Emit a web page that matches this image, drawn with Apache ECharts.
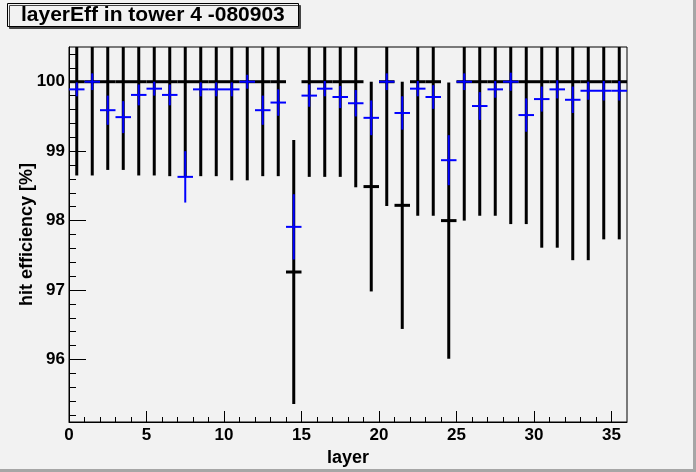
<!DOCTYPE html>
<html>
<head>
<meta charset="utf-8">
<title>layerEff in tower 4</title>
<script src="https://cdn.jsdelivr.net/npm/echarts@6.0.0/dist/echarts.min.js"></script>
<style>
  html, body { margin: 0; padding: 0; background: #f2f2f2; }
  #main { width: 696px; height: 472px; }
</style>
</head>
<body>
<div id="main"></div>
<script>
// layer bins (each bin is 1 wide, mark drawn at layer + 0.5)
var layers = [0, 1, 2, 3, 4, 5, 6, 7, 8, 9, 10, 11, 12, 13, 14, 15, 16, 17,
              18, 19, 20, 21, 22, 23, 24, 25, 26, 27, 28, 29, 30, 31, 32, 33, 34, 35];

// black points, big error bars
var blackEff = [100, 100, 100, 100, 100, 100, 100, 100, 100, 100, 100, 100,
                100, 100, 97.26, 100, 100, 100, 100, 98.49, 100, 98.22, 100, 100,
                98.0, 100, 100, 100, 100, 100, 100, 100, 100, 100, 100, 100];
var blackErr = [1.35, 1.35, 1.27, 1.27, 1.35, 1.35, 1.36, 1.36, 1.36, 1.36, 1.42, 1.42,
                1.36, 1.36, 1.9, 1.37, 1.37, 1.37, 1.52, 1.51, 1.79, 1.78, 1.93, 1.93,
                1.99, 2.0, 1.93, 1.93, 2.05, 2.05, 2.39, 2.39, 2.57, 2.57, 2.27, 2.27];

// blue points, small error bars
var blueEff = [99.89, 100.0, 99.59, 99.49, 99.81, 99.9, 99.81, 98.63, 99.89, 99.89, 99.89, 100.0,
               99.59, 99.7, 97.91, 99.8, 99.9, 99.78, 99.69, 99.48, 100.0, 99.55, 99.9, 99.78,
               98.87, 100.0, 99.65, 99.89, 100.0, 99.52, 99.75, 99.89, 99.74, 99.87, 99.87, 99.87];
var blueErr = [0.1, 0.12, 0.21, 0.23, 0.15, 0.1, 0.15, 0.37, 0.1, 0.1, 0.1, 0.1,
               0.21, 0.19, 0.47, 0.16, 0.11, 0.16, 0.19, 0.25, 0.12, 0.24, 0.11, 0.17,
               0.36, 0.12, 0.2, 0.12, 0.13, 0.24, 0.18, 0.13, 0.19, 0.13, 0.14, 0.14];

// axis ticks
var xMajor = [0, 5, 10, 15, 20, 25, 30, 35];
var xMinor = [1, 2, 3, 4, 6, 7, 8, 9, 11, 12, 13, 14, 16, 17, 18, 19, 21, 22, 23, 24,
              26, 27, 28, 29, 31, 32, 33, 34];
var yMajor = [96, 97, 98, 99, 100];
var yMinor = [95.2, 95.4, 95.6, 95.8, 96.2, 96.4, 96.6, 96.8, 97.2, 97.4, 97.6, 97.8,
              98.2, 98.4, 98.6, 98.8, 99.2, 99.4, 99.6, 99.8, 100.2, 100.4];

var yMin = 95.1, yMax = 100.5;
var font = 'Liberation Sans';

function toData(eff, err) {
    return layers.map(function (l, i) { return [l, eff[i], err[i]]; });
}

function errBars(color, lw) {
    return function (params, api) {
        var x = api.value(0) + 0.5;
        var y = api.value(1);
        var e = api.value(2);
        var l = api.coord([x - 0.5, y]);
        var r = api.coord([x + 0.5, y]);
        var t = api.coord([x, Math.min(y + e, yMax)]);
        var b = api.coord([x, Math.max(y - e, yMin)]);
        return {
            type: 'group',
            children: [
                { type: 'line', shape: { x1: l[0], y1: l[1], x2: r[0], y2: r[1] },
                  style: { stroke: color, lineWidth: lw } },
                { type: 'line', shape: { x1: t[0], y1: t[1], x2: b[0], y2: b[1] },
                  style: { stroke: color, lineWidth: lw } }
            ]
        };
    };
}

var chart = echarts.init(document.getElementById('main'));

option = {
    backgroundColor: '#f2f2f2',
    animation: false,
    title: {
        text: 'layerEff in tower 4 -080903',
        left: 7,
        top: 3,
        padding: [2, 14, 1, 14],
        backgroundColor: '#f2f2f2',
        borderColor: '#000',
        borderWidth: 1,
        shadowColor: '#444',
        shadowOffsetX: 2,
        shadowOffsetY: 2,
        textStyle: { fontFamily: font, fontWeight: 'bold', fontSize: 21, color: '#000' }
    },
    grid: {
        left: 69, right: 69, top: 47, bottom: 48,
        show: true,
        borderColor: '#000',
        borderWidth: 1,
        backgroundColor: 'transparent'
    },
    xAxis: [{
        type: 'value',
        min: 0, max: 36,
        position: 'bottom',
        name: 'layer',
        nameLocation: 'middle',
        nameGap: 27,
        nameTextStyle: { fontFamily: font, fontWeight: 'bold', fontSize: 18, color: '#000' },
        axisLine: { lineStyle: { color: '#000', width: 1 } },
        axisTick: { inside: true, length: 11, customValues: xMajor, lineStyle: { color: '#000' } },
        axisLabel: { customValues: xMajor, margin: 5, fontFamily: font, fontWeight: 'bold', fontSize: 17, color: '#000' },
        splitLine: { show: false }
    }, {
        type: 'value',
        min: 0, max: 36,
        position: 'bottom',
        axisLine: { show: false },
        axisTick: { inside: true, length: 5, customValues: xMinor, lineStyle: { color: '#000' } },
        axisLabel: { show: false },
        splitLine: { show: false }
    }],
    yAxis: [{
        type: 'value',
        min: yMin, max: yMax,
        position: 'left',
        name: 'hit efficiency [%]',
        nameLocation: 'middle',
        nameRotate: 90,
        nameGap: 33,
        nameMoveOverlap: false,
        nameTextStyle: { fontFamily: font, fontWeight: 'bold', fontSize: 18, color: '#000' },
        axisLine: { lineStyle: { color: '#000', width: 1 } },
        axisTick: { inside: true, length: 17, customValues: yMajor, lineStyle: { color: '#000' } },
        axisLabel: { customValues: yMajor, margin: 4, fontFamily: font, fontWeight: 'bold', fontSize: 17, color: '#000' },
        splitLine: { show: false }
    }, {
        type: 'value',
        min: yMin, max: yMax,
        position: 'left',
        axisLine: { show: false },
        axisTick: { inside: true, length: 7, customValues: yMinor, lineStyle: { color: '#000' } },
        axisLabel: { show: false },
        splitLine: { show: false }
    }],
    graphic: [
        { type: 'rect', right: 0, top: 0, shape: { width: 3, height: 472 }, style: { fill: '#a6a6a6' } },
        { type: 'rect', left: 0, bottom: 0, shape: { width: 696, height: 3 }, style: { fill: '#a6a6a6' } }
    ],
    series: [{
        name: 'black',
        type: 'custom',
        xAxisIndex: 0, yAxisIndex: 0,
        renderItem: errBars('#000', 3),
        encode: { x: 0, y: 1 },
        data: toData(blackEff, blackErr)
    }, {
        name: 'blue',
        type: 'custom',
        xAxisIndex: 0, yAxisIndex: 0,
        renderItem: errBars('#0000ff', 2),
        encode: { x: 0, y: 1 },
        data: toData(blueEff, blueErr)
    }]
};

option && chart.setOption(option);
</script>
</body>
</html>
